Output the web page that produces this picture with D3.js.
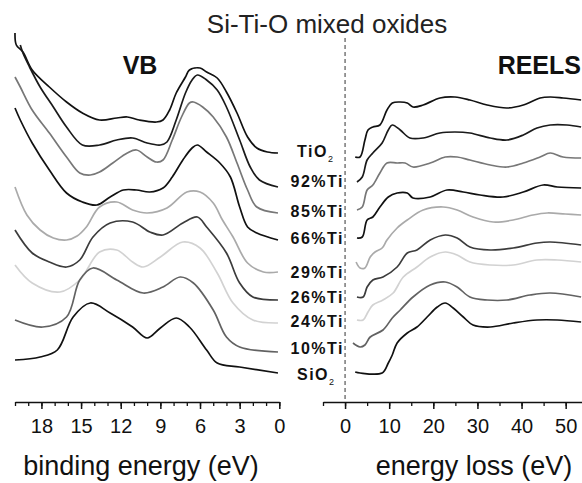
<!DOCTYPE html>
<html><head><meta charset="utf-8">
<script src="https://cdn.jsdelivr.net/npm/d3@7"></script>
<style>
html,body{margin:0;padding:0;background:#fff;}
svg{display:block;font-family:"Liberation Sans",Arial,sans-serif;}
</style></head>
<body><svg id="c" width="582" height="483"></svg>
<script>
// ---- data: [energy (eV), intensity (a.u., offset)] ----
const sampleLabels = ["TiO2","92%Ti","85%Ti","66%Ti","29%Ti","26%Ti","24%Ti","10%Ti","SiO2"];
const labelLevels = [245,215,185,158,124,99,75,48,22];

const vbTiO2 = [[20.0,369],[19.9,357],[19.4,350],[18.7,332],[17.4,315],[16.1,300],[14.9,289],[13.6,282],[12.3,284],[11.5,285],[10.6,282],[9.3,280],[8.8,282],[8.3,292],[7.8,309],[7.1,325],[6.8,332],[6.0,334],[5.5,330],[4.7,324],[4.0,310],[3.2,289],[2.4,265],[1.7,254],[0.9,250],[0.1,249]];
const vb92 = [[19.6,357],[19.4,349],[18.9,335],[18.1,315],[17.1,295],[16.1,275],[14.9,257],[13.6,257],[12.3,262],[11.1,264],[10.0,259],[9.0,257],[8.5,260],[7.8,282],[7.1,309],[6.6,322],[6.2,327],[5.5,322],[4.7,312],[4.0,295],[3.0,262],[2.2,235],[1.5,222],[0.1,215]];
const vb85 = [[20.0,325],[19.6,315],[18.7,292],[17.4,269],[16.1,245],[15.1,229],[14.3,227],[13.6,230],[12.6,239],[11.5,249],[10.8,252],[10.0,245],[9.3,240],[8.8,242],[8.1,262],[7.4,285],[6.8,299],[6.5,300],[5.8,295],[5.0,285],[4.0,265],[3.2,239],[2.4,212],[1.7,195],[0.1,189]];
const vb66 = [[20.0,294],[19.6,282],[18.7,259],[17.4,232],[16.1,209],[14.9,200],[13.8,197],[12.8,205],[11.8,212],[10.8,212],[9.8,210],[8.8,214],[8.1,225],[7.3,242],[6.6,254],[6.2,257],[5.5,250],[4.5,239],[3.7,225],[3.0,195],[2.4,175],[1.7,169],[0.1,162]];
const vb29 = [[20.0,215],[19.1,187],[18.1,172],[17.1,164],[16.1,162],[15.3,166],[14.6,175],[13.6,195],[12.3,200],[11.1,192],[10.0,189],[8.5,194],[7.0,210],[6.0,210],[5.0,199],[4.3,182],[3.5,165],[2.4,139],[1.2,130],[0.1,130]];
const vb26 = [[20.0,172],[18.7,149],[17.4,140],[16.1,135],[15.1,142],[14.1,165],[12.8,179],[11.1,180],[9.8,170],[8.8,167],[7.3,179],[6.2,185],[5.5,175],[4.0,149],[3.0,119],[2.0,105],[0.1,102]];
const vb24 = [[20.0,137],[18.7,119],[16.6,110],[15.1,122],[13.6,150],[12.3,152],[11.1,140],[10.3,135],[9.0,145],[7.3,160],[6.0,154],[4.7,129],[3.5,99],[2.0,82],[0.1,79]];
const vb10 = [[20.0,82],[17.9,75],[16.1,85],[15.1,122],[14.1,134],[12.3,122],[10.3,109],[8.8,115],[7.5,125],[6.5,119],[5.0,92],[4.0,65],[3.0,55],[0.1,50]];
const vbSiO2 = [[20.0,42],[18.1,45],[16.8,52],[15.6,85],[14.3,99],[12.8,89],[11.1,75],[10.0,64],[9.0,74],[7.8,84],[6.8,75],[5.5,52],[4.7,39],[3.0,35],[0.1,29]];

const reelsTiO2 = [[2.3,245],[3.4,245],[4.5,262],[5.2,272],[6.3,275],[7.9,277],[9.5,292],[10.7,299],[12.5,300],[14.1,299],[15.4,295],[17.7,297],[21.5,304],[24.9,305],[28.3,302],[32.2,297],[36.7,294],[40.4,297],[44.2,304],[46.5,305],[49.4,304],[53.5,302]];
const reels92 = [[2.7,220],[3.9,225],[5.0,242],[6.3,249],[8.4,259],[9.8,272],[10.7,277],[12.5,272],[14.7,264],[17.7,264],[21.5,269],[24.9,270],[28.3,269],[32.9,264],[36.7,262],[40.4,267],[43.5,274],[46.5,277],[50.3,277],[53.5,275]];
const reels85 = [[2.7,192],[3.9,195],[5.0,212],[6.3,217],[7.9,229],[9.5,239],[11.8,239],[13.6,239],[15.4,235],[19.3,239],[22.7,245],[25.4,245],[28.3,242],[32.9,237],[36.7,235],[40.4,239],[44.2,245],[46.5,249],[49.4,245],[53.5,244]];
const reels66 = [[2.7,164],[3.9,165],[5.0,182],[6.3,185],[7.9,195],[9.8,205],[11.8,209],[14.1,209],[15.4,204],[19.3,205],[23.1,212],[26.8,210],[30.6,207],[35.8,205],[40.4,210],[44.9,217],[48.1,215],[53.5,214]];
const reels29 = [[2.5,140],[3.4,134],[4.5,134],[5.7,145],[6.8,150],[8.4,154],[9.5,162],[11.8,174],[14.1,182],[17.7,192],[22.2,195],[25.4,192],[29.0,185],[33.6,180],[38.1,182],[42.6,187],[45.8,189],[49.9,188],[53.5,187]];
const reels26 = [[2.7,105],[4.1,105],[5.0,115],[6.3,122],[8.6,125],[11.8,135],[14.1,149],[16.3,152],[19.3,162],[22.7,167],[25.4,164],[28.3,155],[32.9,152],[38.1,154],[43.5,159],[46.5,160],[53.5,157]];
const reels24 = [[2.7,82],[4.1,82],[5.2,90],[6.3,97],[8.6,102],[10.9,109],[13.2,125],[16.3,135],[19.3,145],[22.7,150],[25.4,147],[28.3,140],[32.9,137],[38.1,137],[43.5,142],[48.1,142],[53.5,140]];
const reels10 = [[1.8,59],[3.4,55],[4.5,57],[5.7,65],[8.6,72],[10.7,84],[12.5,92],[15.4,105],[19.3,117],[22.7,120],[25.4,115],[28.3,105],[32.2,102],[36.7,102],[41.9,107],[46.5,109],[53.5,105]];
const reelsSiO2 = [[2.3,30],[3.4,29],[8.4,29],[9.8,39],[10.7,47],[11.8,59],[14.1,69],[16.3,75],[18.6,85],[20.9,95],[22.7,99],[24.5,94],[26.8,85],[29.0,77],[32.9,75],[38.1,79],[43.5,82],[48.1,82],[53.5,80]];

const vbTickMajor = [18,15,12,9,6,3,0];
const reelsTickMajor = [0,10,20,30,40,50];

// ---- styles ----
const seriesColors = ["#111","#1a1a1a","#777","#111","#aaa","#3c3c3c","#d2d2d2","#626262","#111"];

const svg = d3.select("#c");
const vbSeries = [vbTiO2,vb92,vb85,vb66,vb29,vb26,vb24,vb10,vbSiO2];
const reelsSeries = [reelsTiO2,reels92,reels85,reels66,reels29,reels26,reels24,reels10,reelsSiO2];

const y = d3.scaleLinear().domain([0,364]).range([402,38]);
const xL = d3.scaleLinear().domain([20,0]).range([15,279.3]);
const xR = d3.scaleLinear().domain([-5,53.7]).range([323,582]);

// dashed zero line
svg.append("line").attr("x1",xR(0)).attr("x2",xR(0)).attr("y1",38).attr("y2",402)
  .attr("stroke","#333").attr("stroke-width",1).attr("stroke-dasharray","4,3");

const lineL = d3.line().x(d=>xL(d[0])).y(d=>y(d[1])).curve(d3.curveCatmullRom.alpha(0.5));
const lineR = d3.line().x(d=>xR(d[0])).y(d=>y(d[1])).curve(d3.curveCatmullRom.alpha(0.5));

vbSeries.forEach((s,i)=>{
  svg.append("path").attr("d",lineL(s)).attr("fill","none")
    .attr("stroke",seriesColors[i]).attr("stroke-width",1.7).attr("stroke-linejoin","round");
});
reelsSeries.forEach((s,i)=>{
  svg.append("path").attr("d",lineR(s)).attr("fill","none")
    .attr("stroke",seriesColors[i]).attr("stroke-width",1.7).attr("stroke-linejoin","round");
});

// axes
function drawAxis(scale, minorVals, majorVals){
  const gMin = svg.append("g").attr("transform","translate(0,402)")
    .call(d3.axisBottom(scale).tickValues(minorVals).tickSize(4).tickSizeOuter(0).tickFormat(""));
  gMin.select(".domain").attr("stroke","#111").attr("stroke-width",1.5);
  gMin.selectAll(".tick line").attr("stroke","#111").attr("stroke-width",1.3);
  const gMaj = svg.append("g").attr("transform","translate(0,402)")
    .call(d3.axisBottom(scale).tickValues(majorVals).tickSize(7).tickSizeOuter(0).tickPadding(10));
  gMaj.select(".domain").remove();
  gMaj.selectAll(".tick line").attr("stroke","#111").attr("stroke-width",1.5);
  gMaj.selectAll(".tick text").attr("font-size",20).attr("fill","#111")
    .attr("font-family","Liberation Sans, Arial, sans-serif");
}
drawAxis(xL, d3.range(0,21,1), vbTickMajor);
drawAxis(xR, d3.range(-5,54,5), reelsTickMajor);

// titles
svg.append("text").attr("x",327).attr("y",33).attr("text-anchor","middle")
  .attr("font-size",26).attr("fill","#222").text("Si-Ti-O mixed oxides");
svg.append("text").attr("x",140).attr("y",74).attr("text-anchor","middle")
  .attr("font-size",25).attr("font-weight","bold").attr("fill","#111").text("VB");
svg.append("text").attr("x",581).attr("y",74).attr("text-anchor","end")
  .attr("font-size",25).attr("font-weight","bold").attr("fill","#111").text("REELS");
svg.append("text").attr("x",141).attr("y",475).attr("text-anchor","middle")
  .attr("font-size",27).attr("fill","#111").text("binding energy (eV)");
svg.append("text").attr("x",474).attr("y",475).attr("text-anchor","middle")
  .attr("font-size",27).attr("fill","#111").text("energy loss (eV)");

// sample labels
sampleLabels.forEach((lab,i)=>{
  const t = svg.append("text").attr("y",y(labelLevels[i]))
    .attr("font-size",16).attr("font-weight","bold").attr("fill","#111")
    .attr("letter-spacing","1.5px");
  if(lab.endsWith("O2")){
    t.attr("x",297).attr("text-anchor","start");
    t.append("tspan").text(lab.slice(0,-1));
    t.append("tspan").attr("font-size",9).attr("dy",5).attr("font-weight","normal").text("2");
  } else {
    t.attr("x",344).attr("text-anchor","end").text(lab);
  }
});
</script></body></html>
